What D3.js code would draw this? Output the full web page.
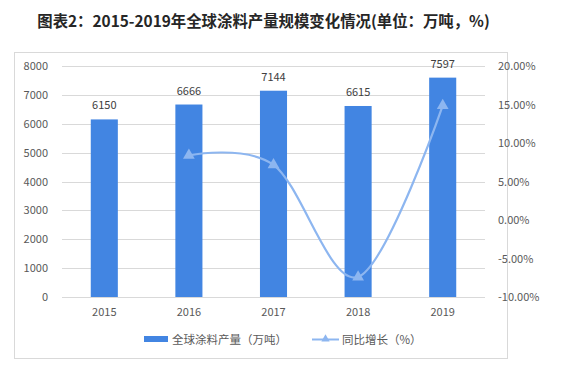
<!DOCTYPE html>
<html><head><meta charset="utf-8">
<script src="https://cdn.jsdelivr.net/npm/d3@7"></script>
<style>body{margin:0;background:#fff;}svg{display:block;font-family:"Microsoft YaHei","Noto Sans CJK SC",sans-serif;}</style>
</head><body><svg id="c" width="563" height="372"></svg>
<script>
const years = ["2015","2016","2017","2018","2019"];
const production = [6150, 6666, 7144, 6615, 7597];
const growth = [null, 8.39, 7.17, -7.40, 14.85];
const leftTicks = [0,1000,2000,3000,4000,5000,6000,7000,8000];
const rightTicks = [-10,-5,0,5,10,15,20];

const svg = d3.select("#c");
const W=563,H=372;
svg.append("rect").attr("width",W).attr("height",H).attr("fill","#fff");
svg.append("text").attr("x",263.5).attr("y",27).attr("text-anchor","middle")
  .attr("font-size",15.4).attr("font-weight","bold").attr("fill","#262626")
  .text("图表2：2015-2019年全球涂料产量规模变化情况(单位：万吨，%)");
svg.append("rect").attr("x",14.5).attr("y",52.5).attr("width",493).attr("height",306)
  .attr("fill","none").attr("stroke","#d9d9d9");

const x = d3.scaleBand().domain(years).range([62,485]).paddingInner(0.68).paddingOuter(0.34);
const yL = d3.scaleLinear().domain([0,8000]).range([297,66]);
const yR = d3.scaleLinear().domain([-10,20]).range([297,66]);

const g = svg.append("g");
g.selectAll("line.grid").data(leftTicks).join("line")
  .attr("x1",62).attr("x2",485).attr("y1",d=>Math.round(yL(d))+0.5).attr("y2",d=>Math.round(yL(d))+0.5)
  .attr("stroke","#d9d9d9");
g.selectAll("text.lt").data(leftTicks).join("text")
  .attr("x",48).attr("y",d=>yL(d)+4).attr("text-anchor","end").attr("font-size",11).attr("fill","#595959")
  .text(d=>d);
g.selectAll("text.rt").data(rightTicks).join("text")
  .attr("x",498).attr("y",d=>yR(d)+4).attr("font-size",11).attr("fill","#595959")
  .text(d=>d.toFixed(2)+"%");
g.selectAll("text.xt").data(years).join("text")
  .attr("x",d=>x(d)+x.bandwidth()/2).attr("y",316).attr("text-anchor","middle").attr("font-size",11).attr("fill","#595959")
  .text(d=>d);

const barColor="#4285e2";
g.selectAll("rect.bar").data(years).join("rect")
  .attr("x",d=>x(d)).attr("width",x.bandwidth())
  .attr("y",(d,i)=>yL(production[i])).attr("height",(d,i)=>yL(0)-yL(production[i]))
  .attr("fill",barColor);
g.selectAll("text.lab").data(years).join("text")
  .attr("x",d=>x(d)+x.bandwidth()/2).attr("y",(d,i)=>yL(production[i])-10)
  .attr("text-anchor","middle").attr("font-size",11).attr("fill","#404040")
  .text((d,i)=>production[i]);

const lineColor="#8db6f0";
const pts = years.map((d,i)=>({x:x(d)+x.bandwidth()/2,y:growth[i]})).filter(p=>p.y!==null);
const line = d3.line().x(p=>p.x).y(p=>yR(p.y)).curve(d3.curveCatmullRom.alpha(0));
g.append("path").attr("d",line(pts)).attr("fill","none").attr("stroke",lineColor).attr("stroke-width",2.2);
const tri = d3.symbol().type(d3.symbolTriangle).size(60);
g.selectAll("path.m").data(pts).join("path")
  .attr("transform",p=>`translate(${p.x},${yR(p.y)})`).attr("d",tri()).attr("fill",lineColor);

// legend
svg.append("rect").attr("x",144).attr("y",336).attr("width",24).attr("height",6).attr("fill",barColor);
svg.append("text").attr("x",172).attr("y",343.5).attr("font-size",11.5).attr("fill","#595959").text("全球涂料产量（万吨）");
svg.append("line").attr("x1",312).attr("x2",339).attr("y1",339.5).attr("y2",339.5).attr("stroke",lineColor).attr("stroke-width",2);
svg.append("path").attr("transform","translate(325.5,339)").attr("d",d3.symbol().type(d3.symbolTriangle).size(30)()).attr("fill",lineColor);
svg.append("text").attr("x",342).attr("y",343.5).attr("font-size",11.5).attr("fill","#595959").text("同比增长（%）");
</script></body></html>
